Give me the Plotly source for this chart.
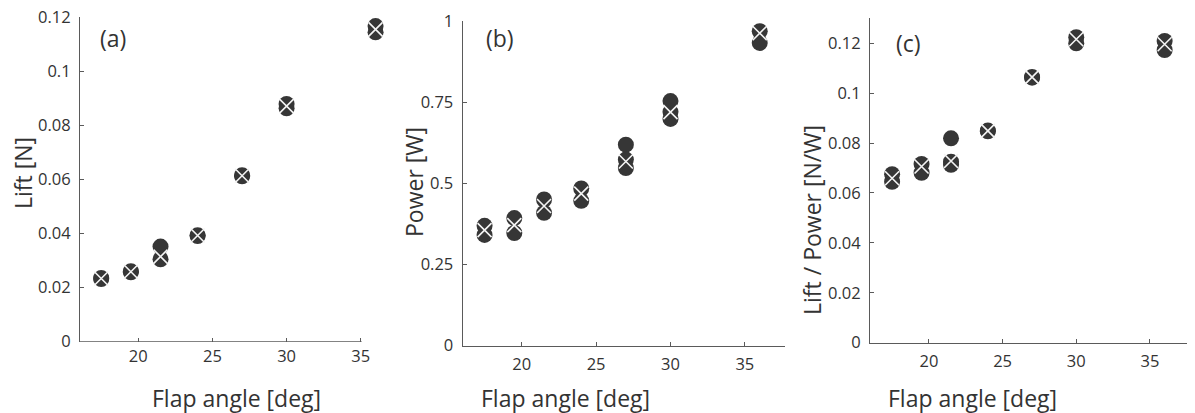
import plotly.graph_objects as go

# ---- data ----
x_ticks = [20, 25, 30, 35]

# (a) Lift [N]
lift_circle_x = [17.5, 17.5, 19.5, 19.5, 21.5, 21.5, 24, 24, 27, 27, 30, 30, 36, 36]
lift_circle_y = [0.0236, 0.0232, 0.0261, 0.0257, 0.0352, 0.0305, 0.0394, 0.0391,
                 0.0616, 0.0612, 0.0880, 0.0864, 0.1168, 0.1145]
lift_cross_x = [17.5, 19.5, 21.5, 24, 27, 30, 36]
lift_cross_y = [0.0234, 0.0259, 0.0315, 0.0393, 0.0614, 0.0872, 0.1156]

# (b) Power [W]
power_circle_x = [17.5, 17.5, 19.5, 19.5, 21.5, 21.5, 24, 24, 27, 27, 27,
                  30, 30, 30, 36, 36]
power_circle_y = [0.369, 0.341, 0.393, 0.347, 0.450, 0.409, 0.484, 0.446,
                  0.619, 0.573, 0.547, 0.753, 0.720, 0.698, 0.968, 0.932]
power_cross_x = [17.5, 19.5, 21.5, 24, 27, 30, 36]
power_cross_y = [0.356, 0.371, 0.430, 0.468, 0.567, 0.719, 0.962]

# (c) Lift / Power [N/W]
ratio_circle_x = [17.5, 17.5, 19.5, 19.5, 21.5, 21.5, 21.5, 24, 24, 27, 27, 30, 30, 36, 36]
ratio_circle_y = [0.0675, 0.0645, 0.0716, 0.0681, 0.0819, 0.0725, 0.0713,
                  0.0850, 0.0847, 0.1065, 0.1062, 0.1224, 0.1200, 0.1209, 0.1173]
ratio_cross_x = [17.5, 19.5, 21.5, 24, 27, 30, 36]
ratio_cross_y = [0.0659, 0.0706, 0.0728, 0.0849, 0.1064, 0.1216, 0.1196]

panel_labels = ["(a)", "(b)", "(c)"]
y_titles = ["Lift [N]", "Power [W]", "Lift / Power [N/W]"]
x_title = "Flap angle [deg]"

# ---- figure ----
# the page body adds an 8px offset; size the figure so it fits the window
OFF = 8
W, H = 1195 - OFF, 413 - OFF
FONT = "Open Sans, Liberation Sans, sans-serif"
DARK = "#363636"
AXC = "#5a5a5a"
TXT = "#333333"


def fx(px):
    return (px - OFF) / W


def fy(py):
    return 1 - (py - OFF) / H


fig = go.Figure()

panels = [
    (lift_circle_x, lift_circle_y, lift_cross_x, lift_cross_y),
    (power_circle_x, power_circle_y, power_cross_x, power_cross_y),
    (ratio_circle_x, ratio_circle_y, ratio_cross_x, ratio_cross_y),
]

for i, (cx, cy, kx, ky) in enumerate(panels):
    suf = "" if i == 0 else str(i + 1)
    fig.add_trace(go.Scatter(
        x=cx, y=cy, mode="markers", xaxis="x" + suf, yaxis="y" + suf,
        marker=dict(symbol="circle", size=16, color=DARK, line=dict(width=0)),
        cliponaxis=False, showlegend=False, hoverinfo="x+y"))
    fig.add_trace(go.Scatter(
        x=kx, y=ky, mode="markers", xaxis="x" + suf, yaxis="y" + suf,
        marker=dict(symbol="x-thin-open", size=14, color="#f4f4f4",
                    line=dict(width=1.6, color="#f4f4f4")),
        cliponaxis=False, showlegend=False, hoverinfo="x+y"))

# target pixel layout of each plot area: (left, right, top, bottom), axis ranges,
# and where the drawn x-axis line ends (data units)
PX_PER_DEG_A = 14.83
boxes = [
    (80, 395, 17.3, 341.7, [16.07, 16.07 + 315 / PX_PER_DEG_A], [0, 0.12005], 0.02, 35.06),
    (462.7, 785, 20.7, 345.7, [16.03, 37.7], [0, 1.0005], 0.25, None),
    (870, 1195, 18.3, 342.7, [16.0, 38.06], [0, 0.13], 0.02, None),
]

axis_common = dict(
    showline=True, linecolor=AXC, linewidth=1.2, showgrid=False, zeroline=False,
    ticks="inside", ticklen=4, tickwidth=1, tickcolor=AXC,
    tickfont=dict(family=FONT, size=16.5, color=TXT), mirror=False,
    ticklabeloverflow="allow",
)

layout = dict(
    width=W, height=H, margin=dict(l=0, r=0, t=0, b=0, pad=0, autoexpand=False),
    paper_bgcolor="white", plot_bgcolor="white", showlegend=False,
    font=dict(family=FONT, color=TXT),
)

shapes = []
for i, (l, r, t, b, xr, yr, dt, xend) in enumerate(boxes):
    suf = "" if i == 0 else str(i + 1)
    layout["xaxis" + suf] = dict(
        axis_common, domain=[fx(l), min(fx(r), 1.0)], range=xr, tickvals=x_ticks,
        anchor="y" + suf, ticklabelstandoff=3, showline=(xend is None))
    layout["yaxis" + suf] = dict(
        axis_common, domain=[fy(b), fy(t)], range=yr, dtick=dt, tick0=0,
        anchor="x" + suf, ticklabelstandoff=5)
    if xend is not None:
        shapes.append(dict(type="line", xref="x" + suf, yref="y" + suf,
                           x0=xr[0], x1=xend, y0=0, y1=0,
                           line=dict(color=AXC, width=1.2)))

annotations = []
xt_centers = [236, 565, 972]
yt_pos = [(23, 173), (414, 182), (812, 220)]
lab_pos = [(113, 38), (500, 38), (908, 43)]

for i in range(3):
    annotations.append(dict(
        text=x_title, x=fx(xt_centers[i]), y=fy(398), xref="paper", yref="paper",
        showarrow=False, xanchor="center", yanchor="middle",
        font=dict(family=FONT, size=23, color=TXT)))
    annotations.append(dict(
        text=y_titles[i], x=fx(yt_pos[i][0]), y=fy(yt_pos[i][1]),
        xref="paper", yref="paper", showarrow=False, textangle=-90,
        xanchor="center", yanchor="middle",
        font=dict(family=FONT, size=23, color=TXT)))
    annotations.append(dict(
        text=panel_labels[i], x=fx(lab_pos[i][0]), y=fy(lab_pos[i][1]),
        xref="paper", yref="paper", showarrow=False,
        xanchor="center", yanchor="middle",
        font=dict(family=FONT, size=23, color=TXT)))

layout["annotations"] = annotations
layout["shapes"] = shapes
fig.update_layout(**layout)

fig.write_html("out.html")
